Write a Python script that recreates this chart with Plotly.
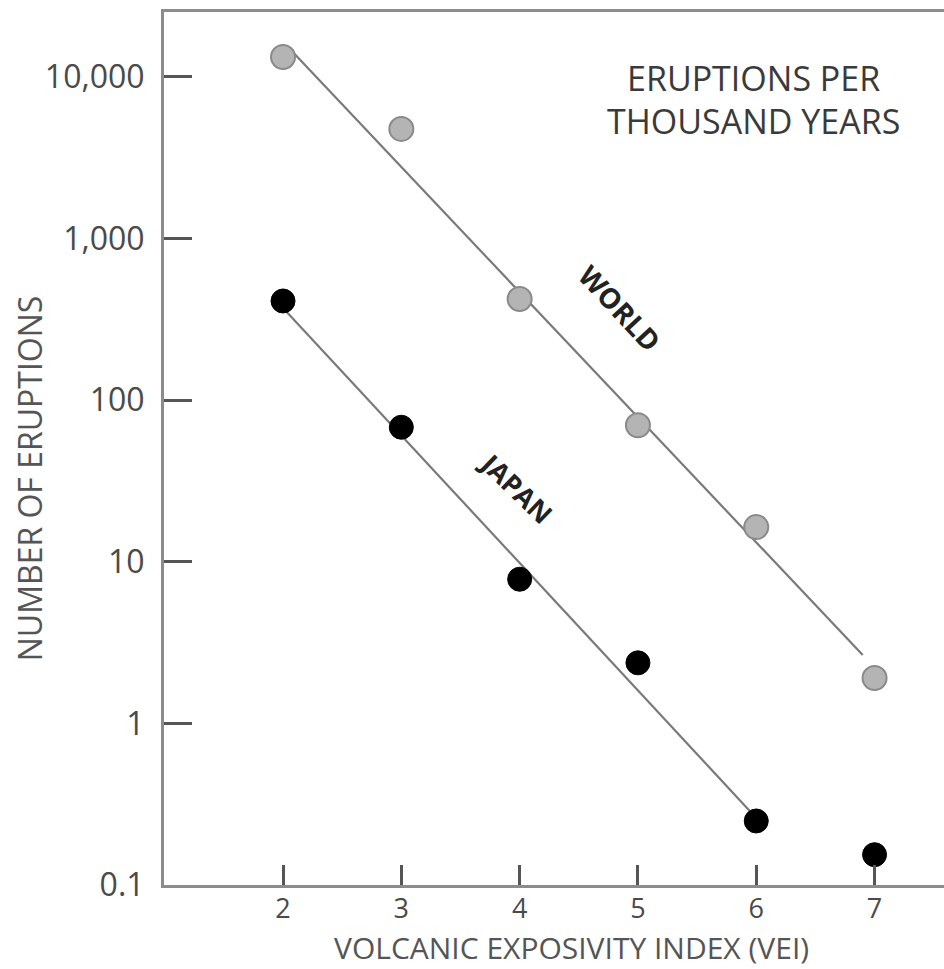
import plotly.graph_objects as go

# Volcanic Explosivity Index classes
vei = [2, 3, 4, 5, 6, 7]

# Eruptions per thousand years
world_counts = [13300, 4770, 423, 70, 16.4, 1.91]
japan_counts = [411, 68, 7.8, 2.37, 0.249, 0.154]

# Straight-line (log-linear) trends drawn through each series
world_fit_x = [2.08, 6.9]
world_fit_y = [14300, 2.65]
japan_fit_x = [2.0, 6.0]
japan_fit_y = [372, 0.26]

y_tick_vals = [0.1, 1, 10, 100, 1000, 10000]
y_tick_text = ["0.1", "1", "10", "100", "1,000", "10,000"]

FONT = "Open Sans"
TEXT = "#4a4a4a"

fig = go.Figure()

fig.add_trace(go.Scatter(
    x=world_fit_x, y=world_fit_y, mode="lines",
    line=dict(color="#7a7a7a", width=2.2), hoverinfo="skip", showlegend=False,
))
fig.add_trace(go.Scatter(
    x=japan_fit_x, y=japan_fit_y, mode="lines",
    line=dict(color="#7a7a7a", width=2.2), hoverinfo="skip", showlegend=False,
))
fig.add_trace(go.Scatter(
    x=vei, y=world_counts, mode="markers", name="World",
    marker=dict(size=24, color="#b4b4b4", line=dict(color="#8a8a8a", width=2)),
    showlegend=False,
))
fig.add_trace(go.Scatter(
    x=vei, y=japan_counts, mode="markers", name="Japan",
    marker=dict(size=24, color="#000000", line=dict(color="#000000", width=1)),
    showlegend=False,
))

fig.update_layout(
    width=944, height=969,
    margin=dict(l=164, r=0, t=12, b=84),
    paper_bgcolor="white", plot_bgcolor="white",
    font=dict(family=FONT, color=TEXT),
    showlegend=False,
    xaxis=dict(
        range=[0.994, 7.587],
        tickmode="array", tickvals=vei, ticktext=[str(v) for v in vei],
        ticks="inside", ticklen=20, tickwidth=3, tickcolor="#555555",
        showline=True, linecolor="#8c8c8c", linewidth=3, mirror=True,
        showgrid=False, zeroline=False,
        ticklabelstandoff=-2,
        tickfont=dict(size=27, color=TEXT, family=FONT),
    ),
    yaxis=dict(
        type="log", range=[-1, 4.402],
        tickmode="array", tickvals=y_tick_vals, ticktext=y_tick_text,
        ticks="inside", ticklen=28, tickwidth=3, tickcolor="#555555",
        showline=True, linecolor="#8c8c8c", linewidth=3,
        showgrid=False, zeroline=False,
        ticklabelstandoff=10,
        tickfont=dict(size=32, color=TEXT, family=FONT),
    ),
)

# Axis titles
fig.add_annotation(x=0.523, y=(885 - 947.5) / 873, xref="paper", yref="paper",
                   text="VOLCANIC EXPOSIVITY INDEX (VEI)", showarrow=False,
                   xanchor="center", yanchor="middle",
                   font=dict(size=30, color="#555555", family=FONT))
fig.add_annotation(x=-0.173, y=0.466, xref="paper", yref="paper",
                   text="NUMBER OF ERUPTIONS", showarrow=False, textangle=-90,
                   xanchor="center", yanchor="middle",
                   font=dict(size=32, color="#555555", family=FONT))

# Series labels along the trend lines
fig.add_annotation(x=4.85, y=2.571, xref="x", yref="y", text="<b>WORLD</b>",
                   showarrow=False, textangle=47, xanchor="center", yanchor="middle",
                   font=dict(size=28, color="#222222", family=FONT))
fig.add_annotation(x=3.97, y=1.457, xref="x", yref="y", text="<b>JAPAN</b>",
                   showarrow=False, textangle=44, xanchor="center", yanchor="middle",
                   font=dict(size=27, color="#222222", family=FONT))

# Units note
fig.add_annotation(x=0.756, y=(885 - 78) / 873, xref="paper", yref="paper",
                   text="ERUPTIONS PER", showarrow=False,
                   xanchor="center", yanchor="middle",
                   font=dict(size=34, color="#3a3a3a", family=FONT))
fig.add_annotation(x=0.756, y=(885 - 121) / 873, xref="paper", yref="paper",
                   text="THOUSAND YEARS", showarrow=False,
                   xanchor="center", yanchor="middle",
                   font=dict(size=34, color="#3a3a3a", family=FONT))

fig.write_html("out.html")
